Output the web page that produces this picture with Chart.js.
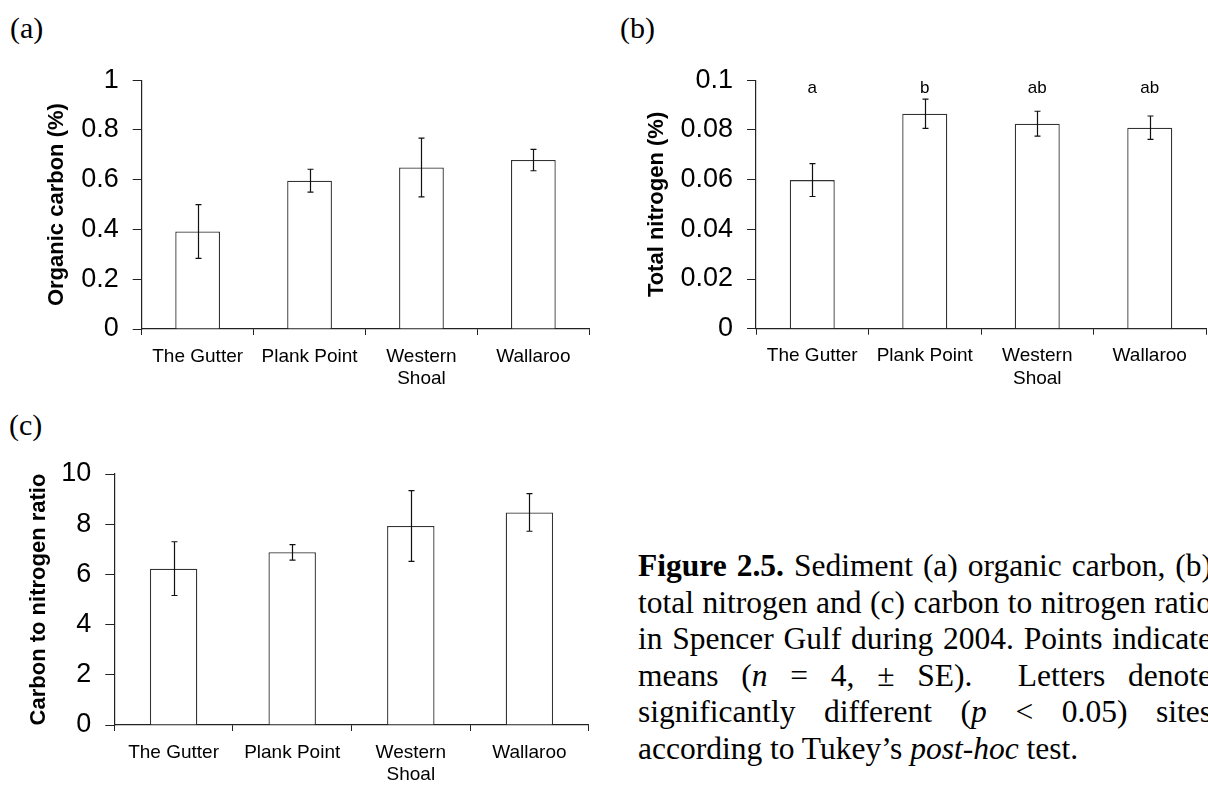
<!DOCTYPE html>
<html>
<head>
<meta charset="utf-8">
<script src="https://cdn.jsdelivr.net/npm/chart.js@4.4.1/dist/chart.umd.min.js"></script>
<style>
  html, body { margin: 0; padding: 0; background: #fff; overflow: hidden; }
  body { width: 1208px; height: 787px; position: relative; }
  .panel { position: absolute; font-family: "Liberation Serif", "Times New Roman", serif; font-size: 30px; line-height: 30px; color: #000; }
  canvas { position: absolute; }
  #caption { position: absolute; left: 638px; top: 548px; width: 574px;
             font-family: "Liberation Serif", "Times New Roman", serif; font-size: 31.5px; line-height: 36.5px; color: #000; }
  #caption div { text-align: justify; text-align-last: justify; }
  #caption div.last { text-align: left; text-align-last: left; }
</style>
</head>
<body>
<div class="panel" style="left:10px; top:13px;">(a)</div>
<div class="panel" style="left:620px; top:13px;">(b)</div>
<div class="panel" style="left:9px; top:410px;">(c)</div>

<canvas id="carbonChart" width="600" height="350" style="left:0; top:50px;"></canvas>
<canvas id="nitrogenChart" width="608" height="350" style="left:600px; top:50px;"></canvas>
<canvas id="ratioChart" width="600" height="347" style="left:0; top:440px;"></canvas>

<div id="caption">
  <div><b>Figure 2.5.</b> Sediment (a) organic carbon, (b)</div>
  <div>total nitrogen and (c) carbon to nitrogen ratio</div>
  <div>in Spencer Gulf during 2004. Points indicate</div>
  <div>means (<i>n</i> = 4, ± SE). &nbsp;Letters denote</div>
  <div>significantly different (<i>p</i> &lt; 0.05) sites</div>
  <div class="last">according to Tukey’s <i>post-hoc</i> test.</div>
</div>

<script>
const sites = ['The Gutter', 'Plank Point', ['Western', 'Shoal'], 'Wallaroo'];

const organicCarbon = [0.392, 0.596, 0.649, 0.679];
const organicCarbonSE = [0.108, 0.046, 0.118, 0.043];
const organicCarbonTicks = [0, 0.2, 0.4, 0.6, 0.8, 1];

const totalNitrogen = [0.0598, 0.0865, 0.0825, 0.0809];
const totalNitrogenSE = [0.0066, 0.0059, 0.0050, 0.0047];
const totalNitrogenTicks = [0, 0.02, 0.04, 0.06, 0.08, 0.1];
const nitrogenLetters = ['a', 'b', 'ab', 'ab'];

const cnRatio = [6.23, 6.88, 7.93, 8.47];
const cnRatioSE = [1.07, 0.31, 1.41, 0.75];
const cnRatioTicks = [0, 2, 4, 6, 8, 10];

const sans = '"Liberation Sans", Arial, sans-serif';

// +/- SE whiskers on top of each bar
const errorBars = {
    id: 'errorBars',
    afterDatasetsDraw(chart, args, opts) {
        if (!opts.se) return;
        const ctx = chart.ctx;
        const y = chart.scales.y;
        const values = chart.data.datasets[0].data;
        ctx.save();
        ctx.strokeStyle = '#111';
        ctx.lineWidth = 1.2;
        chart.getDatasetMeta(0).data.forEach((bar, i) => {
            const x = Math.round(bar.x) + 0.5;
            const top = y.getPixelForValue(values[i] + opts.se[i]);
            const bot = y.getPixelForValue(values[i] - opts.se[i]);
            ctx.beginPath();
            ctx.moveTo(x, top); ctx.lineTo(x, bot);
            ctx.moveTo(x - 3, top); ctx.lineTo(x + 3, top);
            ctx.moveTo(x - 3, bot); ctx.lineTo(x + 3, bot);
            ctx.stroke();
        });
        ctx.restore();
    }
};

// Tukey group letters above the bars
const sigLetters = {
    id: 'sigLetters',
    afterDatasetsDraw(chart, args, opts) {
        if (!opts.letters) return;
        const ctx = chart.ctx;
        const yPix = chart.scales.y.getPixelForValue(opts.at);
        ctx.save();
        ctx.fillStyle = '#000';
        ctx.font = '17px ' + sans;
        ctx.textAlign = 'center';
        ctx.textBaseline = 'alphabetic';
        chart.getDatasetMeta(0).data.forEach((bar, i) => {
            ctx.fillText(opts.letters[i], bar.x, yPix);
        });
        ctx.restore();
    }
};

function barChart(id, values, se, ticks, title, box, letters) {
    return new Chart(document.getElementById(id), {
        type: 'bar',
        data: {
            labels: sites,
            datasets: [{
                data: values,
                backgroundColor: '#fff',
                borderColor: '#333',
                borderWidth: 1.3,
                barPercentage: 0.4,
                categoryPercentage: 1
            }]
        },
        options: {
            responsive: false,
            animation: false,
            events: [],
            layout: { padding: { left: box.padLeft, right: box.padRight, top: box.padTop, bottom: 0 } },
            plugins: {
                legend: { display: false },
                tooltip: { enabled: false },
                errorBars: { se: se },
                sigLetters: letters || {}
            },
            scales: {
                x: {
                    grid: { offset: true, drawOnChartArea: false, tickLength: 6, color: '#222' },
                    border: { color: '#222', width: 1.2 },
                    ticks: { color: '#000', padding: 10, maxRotation: 0, autoSkip: false,
                             font: { family: sans, size: 19, lineHeight: 1.2 } },
                    afterFit: s => { s.height = box.xHeight; }
                },
                y: {
                    min: ticks[0],
                    max: ticks[ticks.length - 1],
                    afterBuildTicks: s => { s.ticks = ticks.map(v => ({ value: v })); },
                    grid: { drawOnChartArea: false, tickLength: 9, color: '#222' },
                    border: { color: '#222', width: 1.2 },
                    ticks: { color: '#000', padding: 14, font: { family: sans, size: 27 },
                             callback: v => String(v) },
                    title: { display: true, text: title, color: '#000', padding: 0,
                             font: { family: sans, size: 22, weight: 'bold', lineHeight: 1.2 } },
                    afterFit: s => { s.width = box.yWidth; }
                }
            }
        },
        plugins: [errorBars, sigLetters]
    });
}

barChart('carbonChart', organicCarbon, organicCarbonSE, organicCarbonTicks, 'Organic carbon (%)',
    { padLeft: 44, yWidth: 97.7, padRight: 10.7, padTop: 27.3, xHeight: 71 });

barChart('nitrogenChart', totalNitrogen, totalNitrogenSE, totalNitrogenTicks, 'Total nitrogen (%)',
    { padLeft: 44, yWidth: 112, padRight: 2, padTop: 27.3, xHeight: 71.3 },
    { letters: nitrogenLetters, at: 0.0947 });

barChart('ratioChart', cnRatio, cnRatioSE, cnRatioTicks, 'Carbon to nitrogen ratio',
    { padLeft: 26, yWidth: 88.3, padRight: 11.3, padTop: 34, xHeight: 62 });
</script>
</body>
</html>
